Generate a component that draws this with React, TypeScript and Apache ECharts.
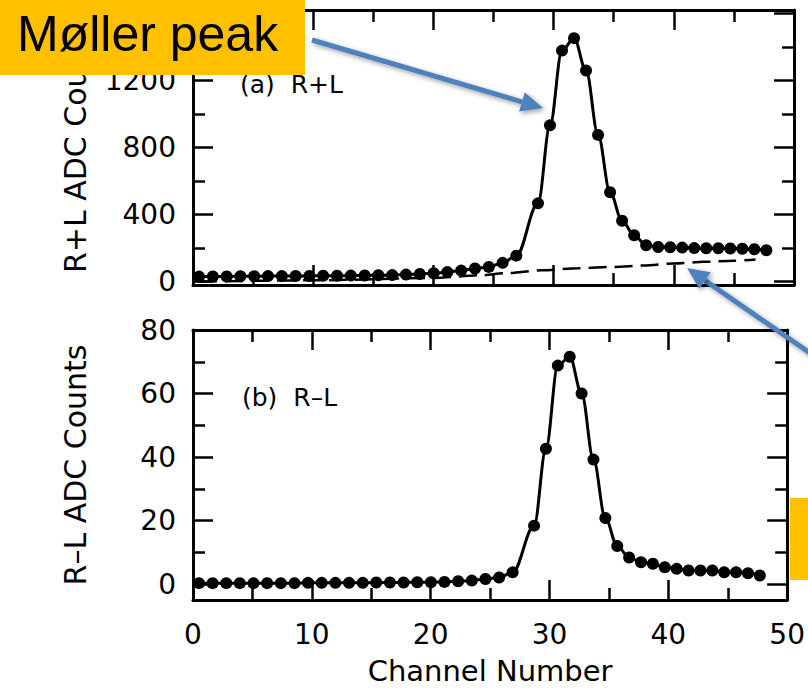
import React, { useEffect, useRef } from "react";
import * as echarts from "echarts";

const channels = [
  0.5, 1.65, 2.8, 3.94, 5.09, 6.24, 7.39, 8.54, 9.68, 10.83, 11.98, 13.13,
  14.28, 15.42, 16.57, 17.72, 18.87, 20.02, 21.16, 22.31, 23.46, 24.61, 25.76,
  26.9, 28.7, 29.7, 30.7, 31.7, 32.7, 33.7, 34.7, 35.7, 36.7, 37.7, 38.7, 39.7,
  40.7, 41.7, 42.7, 43.7, 44.7, 45.7, 46.7, 47.7,
];
// (a) R+L ADC counts
const sumCounts = [
  30, 31, 31, 32, 32, 33, 33, 34, 34, 35, 35, 36, 37, 38, 39, 42, 46, 50, 57,
  66, 78, 88, 112, 155, 467, 932, 1378, 1452, 1259, 875, 533, 363, 277, 217,
  207, 205, 203, 200, 199, 199, 198, 196, 193, 187,
];
// (b) R-L ADC counts
const diffCounts = [
  0.3, 0.3, 0.3, 0.3, 0.3, 0.3, 0.3, 0.3, 0.4, 0.4, 0.4, 0.4, 0.4, 0.5, 0.5,
  0.5, 0.6, 0.6, 0.7, 0.9, 1.1, 1.6, 2.1, 3.7, 18.4, 42.6, 68.8, 71.6, 60.0,
  39.2, 20.8, 12.0, 8.4, 6.9, 6.4, 5.3, 4.8, 4.3, 4.3, 4.3, 3.7, 3.7, 3.4, 2.7,
];
// dashed background under the R+L peak
const bgChannels = [0.5, 10, 20, 24, 26, 29, 32, 35, 37.5, 40, 42.5, 45, 46.8];
const bgCounts = [0, 8, 22, 38, 50, 68, 80, 88, 96, 108, 118, 125, 132];

const xLabels = [0, 10, 20, 30, 40, 50];
const sumMajor = [0, 400, 800, 1200, 1600];
const sumMinor = [200, 600, 1000, 1400];
const sumLabels = [0, 400, 800, 1200];
const diffMajor = [0, 20, 40, 60, 80];
const diffMinor = [10, 30, 50, 70];
const diffLabels = [0, 20, 40, 60, 80];

const FONT = "'DejaVu Sans', Verdana, sans-serif";
const ANN_FONT = "'Liberation Sans', Arial, Helvetica, sans-serif";
const INK = "#000";
const BLUE = "#4F81BD";
const GOLD = "#FFC000";

const plain = (v: number) => String(v);

function xAxisPair(gridIndex: number, showLabels: boolean) {
  const base = {
    type: "value",
    gridIndex,
    min: 0,
    max: 50,
    interval: 10,
    splitLine: { show: false },
    axisLine: { show: true, onZero: false, lineStyle: { color: INK, width: 3 } },
    axisTick: { show: true, inside: true, length: 20, lineStyle: { color: INK, width: 2.5 } },
    minorTick: { show: true, splitNumber: 2, length: 12, lineStyle: { color: INK, width: 2.5 } },
    minorSplitLine: { show: false },
  };
  return [
    {
      ...base,
      position: "bottom",
      axisLabel: {
        show: showLabels,
        margin: 20,
        color: INK,
        fontSize: 28,
        fontFamily: FONT,
        customValues: xLabels,
        formatter: plain,
      },
      name: showLabels ? "Channel Number" : "",
      nameLocation: "middle",
      nameGap: 56,
      nameTextStyle: { color: INK, fontSize: 29, fontFamily: FONT },
    },
    { ...base, position: "top", axisLabel: { show: false } },
  ];
}

function yAxisSet(
  gridIndex: number,
  min: number,
  max: number,
  major: number[],
  minor: number[],
  labels: number[],
  name: string
) {
  const common = {
    type: "value",
    gridIndex,
    min,
    max,
    splitLine: { show: false },
  };
  const mk = (position: string, ticks: number[], len: number, line: boolean, withLabels: boolean) => ({
    ...common,
    position,
    axisLine: { show: line, onZero: false, lineStyle: { color: INK, width: 3 } },
    axisTick: {
      show: true,
      inside: true,
      length: len,
      customValues: ticks,
      lineStyle: { color: INK, width: 2.5 },
    },
    axisLabel: withLabels
      ? {
          show: true,
          margin: 17,
          color: INK,
          fontSize: 28,
          fontFamily: FONT,
          customValues: labels,
          formatter: plain,
        }
      : { show: false },
    name: withLabels ? name : "",
    nameLocation: "middle",
    nameGap: 103,
    nameTextStyle: { color: INK, fontSize: 30, fontFamily: FONT },
  });
  return [
    mk("left", major, 20, true, true),
    mk("left", minor, 12, false, false),
    mk("right", major, 20, true, false),
    mk("right", minor, 12, false, false),
  ];
}

function arrow(x1: number, y1: number, tx: number, ty: number, headLen: number, headHalf: number) {
  const dx = tx - x1;
  const dy = ty - y1;
  const len = Math.sqrt(dx * dx + dy * dy);
  const ux = dx / len;
  const uy = dy / len;
  const bx = tx - headLen * ux;
  const by = ty - headLen * uy;
  const nx = -uy;
  const ny = ux;
  const shadow = {
    shadowBlur: 5,
    shadowColor: "rgba(0,0,0,0.4)",
    shadowOffsetX: 2,
    shadowOffsetY: 2,
  };
  return [
    {
      type: "line",
      z: 90,
      shape: { x1, y1, x2: bx, y2: by },
      style: { stroke: BLUE, lineWidth: 5, ...shadow },
    },
    {
      type: "polygon",
      z: 91,
      shape: {
        points: [
          [tx, ty],
          [bx + headHalf * nx, by + headHalf * ny],
          [bx - headHalf * nx, by - headHalf * ny],
        ],
      },
      style: { fill: BLUE, ...shadow },
    },
  ];
}

export default function App() {
  const ref = useRef<HTMLDivElement>(null);

  useEffect(() => {
    if (!ref.current) return;
    const chart = echarts.init(ref.current, undefined, { renderer: "svg" });

    const sumData = channels.map((c, i) => [c, sumCounts[i]]);
    const diffData = channels.map((c, i) => [c, diffCounts[i]]);
    const bgData = bgChannels.map((c, i) => [c, bgCounts[i]]);

    const option: any = {
      animation: false,
      backgroundColor: "#fff",
      grid: [
        { left: 193, top: 10, width: 601, height: 275, containLabel: false },
        { left: 193, top: 330, width: 601, height: 270, containLabel: false },
      ],
      xAxis: [...xAxisPair(0, false), ...xAxisPair(1, true)],
      yAxis: [
        ...yAxisSet(0, -20, 1620, sumMajor, sumMinor, sumLabels, "R+L ADC Counts"),
        ...yAxisSet(1, -5, 80, diffMajor, diffMinor, diffLabels, "R\u2013L ADC Counts"),
      ],
      series: [
        {
          name: "background",
          type: "line",
          xAxisIndex: 0,
          yAxisIndex: 0,
          data: bgData,
          smooth: 0.3,
          smoothMonotone: "x",
          symbol: "none",
          lineStyle: { color: INK, width: 2.5, type: [18, 8] },
          z: 2,
        },
        {
          name: "R+L",
          type: "line",
          xAxisIndex: 0,
          yAxisIndex: 0,
          data: sumData,
          smooth: 0.35,
          smoothMonotone: "x",
          symbol: "circle",
          symbolSize: 12,
          showAllSymbol: true,
          itemStyle: { color: INK },
          lineStyle: { color: INK, width: 3 },
          z: 3,
        },
        {
          name: "R-L",
          type: "line",
          xAxisIndex: 2,
          yAxisIndex: 4,
          data: diffData,
          smooth: 0.35,
          smoothMonotone: "x",
          symbol: "circle",
          symbolSize: 12,
          showAllSymbol: true,
          itemStyle: { color: INK },
          lineStyle: { color: INK, width: 3 },
          z: 3,
        },
      ],
      graphic: [
        {
          type: "text",
          x: 240,
          y: 84,
          z: 50,
          style: {
            text: "(a)  R+L",
            fill: INK,
            font: `25px ${FONT}`,
            verticalAlign: "middle",
            align: "left",
          },
        },
        {
          type: "text",
          x: 242,
          y: 397,
          z: 50,
          style: {
            text: "(b)  R\u2013L",
            fill: INK,
            font: `25px ${FONT}`,
            verticalAlign: "middle",
            align: "left",
          },
        },
        ...arrow(312, 40, 543, 108, 22, 10),
        ...arrow(820, 360, 687, 268, 22, 10),
        {
          type: "rect",
          z: 100,
          shape: { x: 0, y: 0, width: 305, height: 75 },
          style: { fill: GOLD },
        },
        {
          type: "text",
          z: 101,
          x: 17,
          y: 34,
          style: {
            text: "Møller peak",
            fill: INK,
            font: `50px ${ANN_FONT}`,
            verticalAlign: "middle",
            align: "left",
          },
        },
        {
          type: "rect",
          z: 100,
          shape: { x: 790, y: 498, width: 30, height: 82 },
          style: { fill: GOLD },
        },
      ],
    };

    chart.setOption(option);
    return () => chart.dispose();
  }, []);

  return (
    <div
      ref={ref}
      style={{ position: "fixed", left: 0, top: 0, width: 808, height: 692, background: "#fff" }}
    />
  );
}
